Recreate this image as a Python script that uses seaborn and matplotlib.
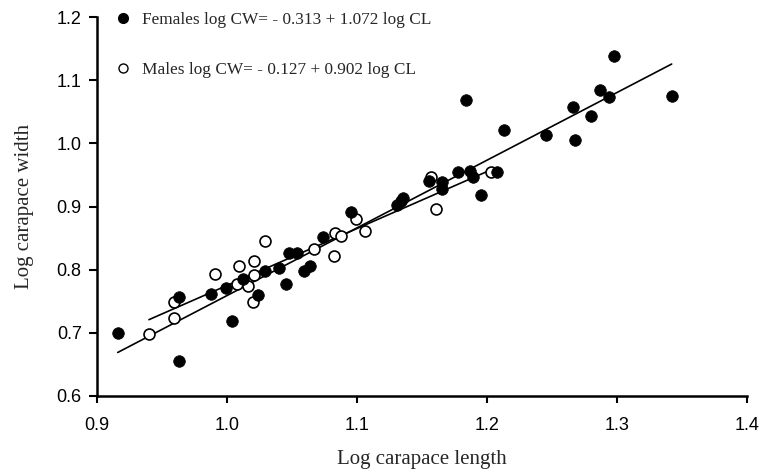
import numpy as np
import pandas as pd
import matplotlib
matplotlib.use("Agg")
import matplotlib.pyplot as plt
import seaborn as sns
from matplotlib.lines import Line2D

# log carapace length / width
female_cl = [0.916, 0.963, 0.963, 0.988, 0.999, 1.004, 1.012, 1.024, 1.029, 1.040,
             1.045, 1.048, 1.054, 1.059, 1.064, 1.074, 1.095, 1.131, 1.134, 1.135,
             1.155, 1.165, 1.165, 1.178, 1.184, 1.187, 1.189, 1.195, 1.208, 1.213,
             1.245, 1.266, 1.268, 1.280, 1.287, 1.294, 1.298, 1.342]
female_cw = [0.699, 0.656, 0.756, 0.761, 0.771, 0.719, 0.785, 0.760, 0.798, 0.803,
             0.778, 0.827, 0.827, 0.798, 0.806, 0.851, 0.892, 0.902, 0.908, 0.914,
             0.941, 0.939, 0.927, 0.955, 1.069, 0.956, 0.946, 0.918, 0.954, 1.021,
             1.014, 1.058, 1.005, 1.044, 1.084, 1.073, 1.139, 1.075]

male_cl = [0.940, 0.959, 0.959, 0.991, 1.008, 1.009, 1.016, 1.020, 1.021, 1.021,
           1.029, 1.067, 1.082, 1.083, 1.088, 1.099, 1.106, 1.157, 1.161, 1.203]
male_cw = [0.698, 0.724, 0.749, 0.793, 0.778, 0.806, 0.774, 0.749, 0.792, 0.813,
           0.845, 0.833, 0.822, 0.858, 0.853, 0.881, 0.861, 0.947, 0.896, 0.954]

# regression equations as given in the legend
female_fit = (-0.313, 1.072)
male_fit = (-0.127, 0.902)

females = pd.DataFrame({"cl": female_cl, "cw": female_cw})
males = pd.DataFrame({"cl": male_cl, "cw": male_cw})

sns.set_style("ticks")
plt.rcParams["font.family"] = ["Liberation Sans", "DejaVu Sans"]

fig = plt.figure(figsize=(7.6, 4.74), dpi=100)
ax = fig.add_axes([0.1276, 0.1646, 0.8554, 0.7994])

for df, (a, b) in [(females, female_fit), (males, male_fit)]:
    xs = np.array([df["cl"].min(), df["cl"].max()])
    ax.plot(xs, a + b * xs, color="black", lw=1.2, zorder=1)

sns.scatterplot(data=females, x="cl", y="cw", ax=ax, s=70, color="black",
                edgecolor="black", linewidth=0.5, zorder=3, legend=False)
sns.scatterplot(data=males, x="cl", y="cw", ax=ax, s=62, facecolor="white",
                edgecolor="black", linewidth=1.2, zorder=2, legend=False)

ax.set_xlim(0.9, 1.4)
ax.set_ylim(0.6, 1.2)
ax.set_xticks(np.arange(0.9, 1.41, 0.1))
ax.set_yticks(np.arange(0.6, 1.21, 0.1))
ax.xaxis.set_major_formatter(plt.FormatStrFormatter("%.1f"))
ax.yaxis.set_major_formatter(plt.FormatStrFormatter("%.1f"))
ax.tick_params(axis="both", labelsize=13, length=5, width=1.5, color="black",
               labelcolor="black", direction="out")
ax.tick_params(axis="x", pad=10)
ax.tick_params(axis="y", length=6, pad=5)
for side in ["top", "right"]:
    ax.spines[side].set_visible(False)
for side in ["left", "bottom"]:
    ax.spines[side].set_linewidth(1.8)
    ax.spines[side].set_color("black")

serif = ["Liberation Serif", "DejaVu Serif"]
ax.set_xlabel("Log carapace length", fontsize=15, family=serif, labelpad=12)
ax.set_ylabel("Log carapace width", fontsize=15, family=serif, labelpad=16)

handles = [
    Line2D([], [], ls="none", marker="o", ms=7, mfc="black", mec="black"),
    Line2D([], [], ls="none", marker="o", ms=6.5, mfc="white", mec="black", mew=1.0),
]
labels = ["Females log CW= - 0.313 + 1.072 log CL",
          "Males log CW= - 0.127 + 0.902 log CL"]
leg = ax.legend(handles, labels, loc="upper left", bbox_to_anchor=(0.003, 1.055),
                frameon=False, handlelength=1.0, handletextpad=0.6,
                labelspacing=2.0, prop={"family": serif, "size": 12.4})

fig.savefig("out.png", dpi=100)
